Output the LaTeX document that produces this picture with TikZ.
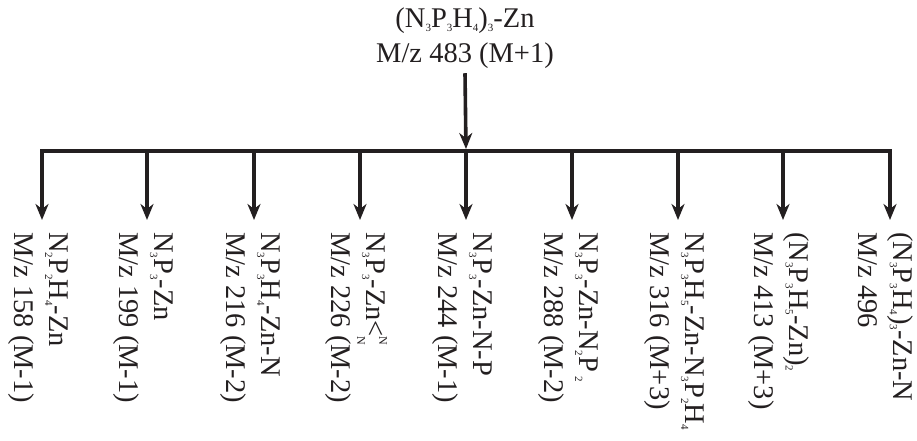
\documentclass[tikz,border=0pt]{standalone}
\usepackage{fontspec}
\setmainfont{Liberation Serif}
\usetikzlibrary{arrows.meta}
\definecolor{ink}{HTML}{231F20}
\newcommand\sbs[1]{\raisebox{-4pt}{\fontsize{11}{12}\selectfont #1}}
\newcommand\nstack{\rlap{\raisebox{13pt}{\fontsize{12}{12}\selectfont N}}\raisebox{-9pt}{\fontsize{12}{12}\selectfont N}}
\begin{document}
\begin{tikzpicture}[x=1pt,y=-1pt,
  every node/.style={inner sep=0pt,text=ink,font=\fontsize{28.5}{35}\selectfont},
  link/.style={draw=ink,line width=3.6pt},
  arr/.style={link,-{Stealth[length=16pt,width=13pt,inset=5pt]}},
  lab/.style={rotate=-90,anchor=west,align=left}]
\useasboundingbox (0,0) rectangle (917,441);
\node[align=center,anchor=north] (top) at (465,8) {(N\sbs{3}P\sbs{3}H\sbs{4})\sbs{3}-Zn\\M/z 483 (M+1)};
\coordinate (hub) at (466,151);
\foreach \i/\x in {1/42,2/147,3/254,4/360,5/466,6/572,7/678,8/783,9/890}
  \coordinate (b\i) at (\x,151);
\node[lab] (l1) at (38,232) {N\sbs{2}P\sbs{2}H\sbs{4}-Zn\\M/z 158 (M-1)};
\node[lab] (l2) at (143,232) {N\sbs{3}P\sbs{3}-Zn\\M/z 199 (M-1)};
\node[lab] (l3) at (250,232) {N\sbs{3}P\sbs{3}H\sbs{4}-Zn-N\\M/z 216 (M-2)};
\node[lab] (l4) at (356,232) {N\sbs{3}P\sbs{3}-Zn<\nstack\\M/z 226 (M-2)};
\node[lab] (l5) at (462,232) {N\sbs{3}P\sbs{3}-Zn-N-P\\M/z 244 (M-1)};
\node[lab] (l6) at (568,232) {N\sbs{3}P\sbs{3}-Zn-N\sbs{2}P\,\sbs{2}\\M/z 288 (M-2)};
\node[lab] (l7) at (674,232) {N\sbs{3}P\sbs{3}H\sbs{5}-Zn-N\sbs{3}P\sbs{2}H\sbs{4}\\M/z 316 (M+3)};
\node[lab] (l8) at (779,232) {(N\sbs{3}P\sbs{3}H\sbs{5}-Zn)\sbs{2}\\M/z 413 (M+3)};
\node[lab] (l9) at (886,232) {(N\sbs{3}P\sbs{3}H\sbs{4})\sbs{3}-Zn-N\\M/z 496};
\draw[link,line cap=rect] (b1) -- (b9);
\draw[arr,shorten >=2pt] ([yshift=-4pt]top.south) -- (hub);
\foreach \i in {1,...,9}
  \draw[arr] (b\i) -- (b\i |- l\i.west) [shorten >=12pt];
\end{tikzpicture}
\end{document}
